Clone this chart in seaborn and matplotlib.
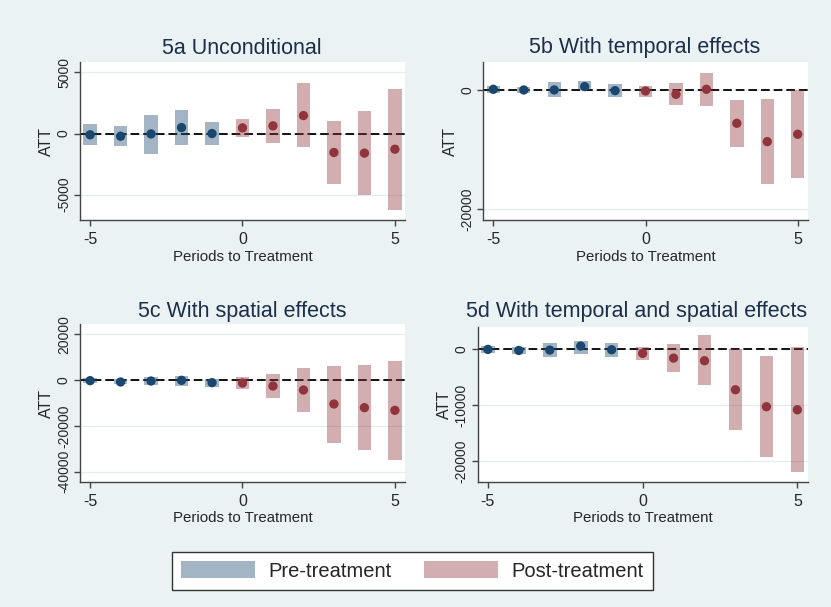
import numpy as np
import pandas as pd
import seaborn as sns
import matplotlib.pyplot as plt
from matplotlib.patches import Patch

# periods relative to treatment
periods = [-5, -4, -3, -2, -1, 0, 1, 2, 3, 4, 5]

# 5a Unconditional
att_a = [-100, -220, -30, 490, 0, 460, 630, 1470, -1550, -1600, -1280]
lo_a = [-950, -1030, -1660, -950, -950, -250, -760, -1140, -4110, -5000, -6230]
hi_a = [770, 600, 1550, 1900, 950, 1170, 2040, 4110, 1000, 1820, 3620]

# 5b With temporal effects
att_b = [110, 0, 0, 560, -110, -170, -730, 110, -5590, -8660, -7430]
lo_b = [-560, -500, -1230, 0, -1120, -1230, -2460, -2680, -9500, -15700, -14760]
hi_b = [670, 450, 1290, 1450, 1000, 670, 1170, 2900, -1680, -1450, 0]

# 5c With spatial effects
att_c = [-290, -870, -440, -145, -1160, -1310, -2620, -4370, -10480, -12080, -13240]
lo_c = [-1450, -1750, -2040, -2470, -2900, -3780, -7860, -13970, -27500, -30550, -35070]
hi_c = [870, 290, 1160, 1890, 440, 1160, 2470, 5090, 6260, 6550, 8440]

# 5d With temporal and spatial effects
att_d = [0, -180, -120, 600, -60, -710, -1550, -2020, -7200, -10230, -10770]
lo_d = [-710, -830, -1310, -830, -1370, -1900, -4050, -6430, -14400, -19280, -21960]
hi_d = [600, 480, 1070, 1490, 1190, 480, 950, 2560, 0, -1130, 480]

titles = ["5a Unconditional", "5b With temporal effects",
          "5c With spatial effects", "5d With temporal and spatial effects"]
yticks = [[-5000, 0, 5000], [-20000, 0],
          [-40000, -20000, 0, 20000], [-20000, -10000, 0]]
ylims = [(-7070, 5840), (-21800, 4640), (-44400, 24300), (-23620, 4050)]

bg = "#eaf2f3"
navy = "#1a476f"
maroon = "#90353b"

sns.set_theme(style="white")
plt.rcParams['font.family'] = ['Liberation Sans', 'DejaVu Sans']

fig = plt.figure(figsize=(8.31, 6.07), dpi=100, facecolor=bg)

# axes boxes in figure fractions (left, bottom, width, height)
boxes = [(0.0963, 0.6376, 0.391, 0.260),
         (0.5816, 0.6376, 0.3904, 0.2598),
         (0.0963, 0.2064, 0.391, 0.2593),
         (0.5748, 0.2064, 0.397, 0.2553)]
title_pos = [(242 / 831, 1 - 48 / 607), (645 / 831, 1 - 48 / 607),
             (242.5 / 831, 1 - 311 / 607), (637 / 831, 1 - 311 / 607)]

panels = [(att_a, lo_a, hi_a), (att_b, lo_b, hi_b),
          (att_c, lo_c, hi_c), (att_d, lo_d, hi_d)]

for i, (att, lo, hi) in enumerate(panels):
    ax = fig.add_axes(boxes[i])
    df = pd.DataFrame({"period": periods, "att": att, "lo": lo, "hi": hi})
    df["phase"] = np.where(df["period"] < 0, "Pre-treatment", "Post-treatment")

    for t in yticks[i]:
        ax.axhline(t, color="#e6eced", lw=0.9, zorder=0)
    ax.axhline(0, color="black", lw=1.3, dashes=(4.8, 2.2), zorder=1)

    cols = [navy if p == "Pre-treatment" else maroon for p in df["phase"]]
    ax.bar(df["period"], df["hi"] - df["lo"], bottom=df["lo"], width=0.44,
           color=cols, alpha=0.4, linewidth=0, zorder=2)
    sns.scatterplot(data=df, x="period", y="att", hue="phase",
                    palette={"Pre-treatment": navy, "Post-treatment": maroon},
                    s=45, edgecolor="none", legend=False, ax=ax, zorder=3)

    ax.set_xlim(-5.33, 5.33)
    ax.set_ylim(*ylims[i])
    ax.set_xticks([-5, 0, 5])
    ax.set_xticklabels(["-5", "0", "5"], fontsize=11.5)
    ax.set_yticks(yticks[i])
    ax.set_yticklabels([str(v) for v in yticks[i]], fontsize=10,
                       rotation=90, va="center")
    ax.set_xlabel("Periods to Treatment", fontsize=10.8, labelpad=2)
    ax.set_ylabel("ATT", fontsize=11.5, labelpad=2)
    ax.set_facecolor("white")
    for side in ["top", "right"]:
        ax.spines[side].set_visible(False)
    for side in ["left", "bottom"]:
        ax.spines[side].set_color("#444444")
        ax.spines[side].set_linewidth(1.0)
    ax.tick_params(axis="both", direction="out", length=4.5, width=1,
                   color="#444444", left=True, bottom=True)
    ax.tick_params(axis="x", pad=4)
    ax.tick_params(axis="y", pad=2)

    fig.text(title_pos[i][0], title_pos[i][1], titles[i], fontsize=15.5,
             color="#1c2e4a", ha="center", va="center")

handles = [Patch(facecolor=navy, alpha=0.4, edgecolor="none", label="Pre-treatment"),
           Patch(facecolor=maroon, alpha=0.4, edgecolor="none", label="Post-treatment")]
leg = fig.legend(handles=handles, loc="center", bbox_to_anchor=(0.496, 0.0593),
                 ncol=2, fontsize=14.5, frameon=True, fancybox=False,
                 handlelength=3.7, handleheight=0.9, handletextpad=0.65,
                 columnspacing=1.6, borderpad=0.45)
leg.get_frame().set_edgecolor("#333333")
leg.get_frame().set_linewidth(1.0)
leg.get_frame().set_facecolor("white")
leg.get_frame().set_alpha(1)

fig.savefig("out.png", dpi=100, facecolor=bg)
